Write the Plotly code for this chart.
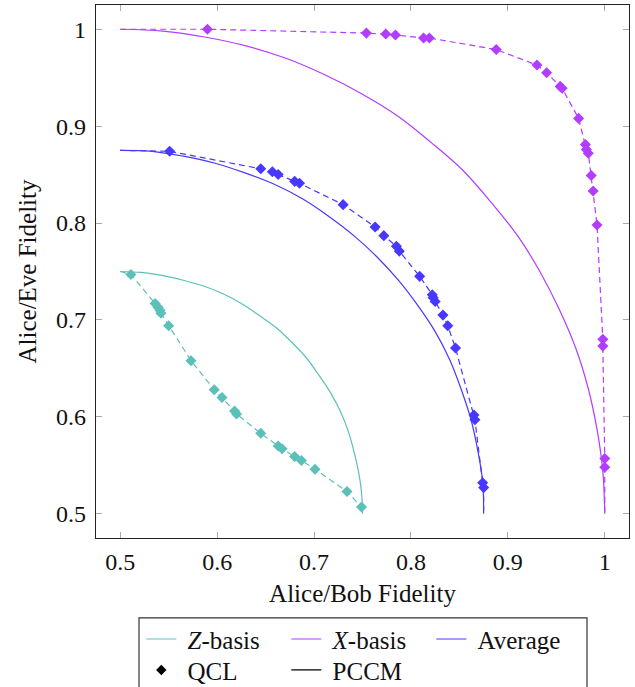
import plotly.graph_objects as go

# ---- data ----
z_qcl_x = [0.511, 0.536, 0.539, 0.541, 0.542, 0.550, 0.573, 0.597, 0.605, 0.618, 0.620,
           0.645, 0.663, 0.667, 0.680, 0.687, 0.701, 0.734, 0.749]
z_qcl_y = [0.747, 0.717, 0.713, 0.710, 0.707, 0.694, 0.658, 0.628, 0.620, 0.606, 0.603,
           0.583, 0.570, 0.567, 0.559, 0.555, 0.546, 0.523, 0.507]
z_qcl_ends_x = [0.500, 0.749]
z_qcl_ends_y = [0.750, 0.507]

x_qcl_x = [0.590, 0.754, 0.774, 0.784, 0.813, 0.819, 0.888, 0.930, 0.940, 0.954, 0.956,
           0.973, 0.980, 0.981, 0.983, 0.986, 0.988, 0.992, 0.998, 0.998, 1.000, 1.000]
x_qcl_y = [1.000, 0.996, 0.995, 0.994, 0.991, 0.991, 0.979, 0.963, 0.955, 0.941, 0.939,
           0.908, 0.881, 0.876, 0.872, 0.849, 0.833, 0.798, 0.680, 0.673, 0.557, 0.548]
x_qcl_ends_x = [0.500, 1.000]
x_qcl_ends_y = [1.000, 0.502]

avg_qcl_x = [0.551, 0.645, 0.657, 0.663, 0.680, 0.685, 0.730, 0.763, 0.772, 0.785, 0.788,
             0.809, 0.822, 0.823, 0.825, 0.833, 0.838, 0.846, 0.865, 0.866, 0.874, 0.875]
avg_qcl_y = [0.874, 0.856, 0.853, 0.850, 0.843, 0.841, 0.819, 0.796, 0.787, 0.776, 0.771,
             0.745, 0.726, 0.723, 0.719, 0.705, 0.694, 0.671, 0.602, 0.597, 0.532, 0.527]
avg_qcl_ends_x = [0.500, 0.875]
avg_qcl_ends_y = [0.875, 0.503]

z_pccm_x = [0.500, 0.522, 0.543, 0.565, 0.586, 0.606, 0.625, 0.643, 0.661, 0.677,
            0.692, 0.705, 0.717, 0.727, 0.735, 0.741, 0.746, 0.749, 0.750]
z_pccm_y = [0.750, 0.749, 0.746, 0.741, 0.735, 0.727, 0.717, 0.705, 0.692, 0.677,
            0.661, 0.643, 0.625, 0.606, 0.586, 0.565, 0.543, 0.522, 0.500]
x_pccm_x = [0.500, 0.544, 0.587, 0.629, 0.671, 0.711, 0.750, 0.787, 0.821, 0.854,
            0.883, 0.910, 0.933, 0.953, 0.970, 0.983, 0.992, 0.998, 1.000]
x_pccm_y = [1.000, 0.998, 0.992, 0.983, 0.970, 0.953, 0.933, 0.910, 0.883, 0.854,
            0.821, 0.787, 0.750, 0.711, 0.671, 0.629, 0.587, 0.544, 0.500]
avg_pccm_x = [0.500, 0.533, 0.565, 0.597, 0.628, 0.659, 0.688, 0.715, 0.741, 0.765,
              0.787, 0.807, 0.825, 0.840, 0.852, 0.862, 0.869, 0.874, 0.875]
avg_pccm_y = [0.875, 0.874, 0.869, 0.862, 0.852, 0.840, 0.825, 0.807, 0.787, 0.765,
              0.741, 0.715, 0.688, 0.659, 0.628, 0.597, 0.565, 0.533, 0.500]

tick_vals = [0.5, 0.6, 0.7, 0.8, 0.9, 1.0]
tick_text = ["0.5", "0.6", "0.7", "0.8", "0.9", "1"]

series_names = ["<i>Z</i>-basis", "<i>X</i>-basis", "Average"]

# ---- styling ----
C_Z = "#5cc0ba"
C_X = "#b23cff"
C_AVG = "#4838ff"
FONT = "Liberation Serif"

fig = go.Figure()

groups = [
    (C_Z, z_pccm_x, z_pccm_y, z_qcl_x, z_qcl_y, z_qcl_ends_x, z_qcl_ends_y),
    (C_X, x_pccm_x, x_pccm_y, x_qcl_x, x_qcl_y, x_qcl_ends_x, x_qcl_ends_y),
    (C_AVG, avg_pccm_x, avg_pccm_y, avg_qcl_x, avg_qcl_y, avg_qcl_ends_x, avg_qcl_ends_y),
]

for color, px_, py_, qx, qy, ex, ey in groups:
    fig.add_trace(go.Scatter(x=px_, y=py_, mode="lines", line=dict(color=color, width=1.2, shape="spline"),
                             showlegend=False, hoverinfo="skip"))
    lx = [ex[0]] + qx + [ex[1]]
    ly = [ey[0]] + qy + [ey[1]]
    fig.add_trace(go.Scatter(x=lx, y=ly, mode="lines", line=dict(color=color, width=1.2, dash="6px,4px"),
                             showlegend=False, hoverinfo="skip"))
    fig.add_trace(go.Scatter(x=qx, y=qy, mode="markers",
                             marker=dict(symbol="diamond", size=8.5, color=color, line=dict(width=0)),
                             showlegend=False))

for name, color in zip(series_names, [C_Z, C_X, C_AVG]):
    fig.add_trace(go.Scatter(x=[None], y=[None], mode="lines", name="\u00a0" + name,
                             line=dict(color=color, width=1.2), legend="legend"))
fig.add_trace(go.Scatter(x=[None], y=[None], mode="markers", name="\u00a0QCL",
                         marker=dict(symbol="diamond", size=8, color="black"), legend="legend2"))
fig.add_trace(go.Scatter(x=[None], y=[None], mode="lines", name="\u00a0PCCM",
                         line=dict(color="black", width=1.2), legend="legend2"))

axis_common = dict(
    tickvals=tick_vals, ticktext=tick_text, ticks="inside", ticklen=6, tickwidth=1,
    tickcolor="#aaaaaa", showline=True, linecolor="#222222", linewidth=1.3, mirror="allticks",
    showgrid=False, zeroline=False, tickfont=dict(family=FONT, size=24, color="#111111"),
)

legend_common = dict(
    orientation="h", font=dict(family=FONT, size=25, color="#111111"),
    bgcolor="rgba(0,0,0,0)", borderwidth=0, entrywidth=100, entrywidthmode="pixels",
    xanchor="left", yanchor="middle", itemwidth=30,
)

fig.update_layout(
    width=635, height=687,
    margin=dict(l=96, r=6, t=5, b=149, autoexpand=False),
    paper_bgcolor="white", plot_bgcolor="white",
    font=dict(family=FONT, color="#111111"),
    xaxis=dict(range=[0.475, 1.025], ticklabelstandoff=2,
               title=dict(text="Alice/Bob Fidelity", font=dict(family=FONT, size=25), standoff=10),
               **axis_common),
    yaxis=dict(range=[0.475, 1.025], ticklabelstandoff=4,
               title=dict(text="Alice/Eve Fidelity", font=dict(family=FONT, size=25), standoff=12),
               **axis_common),
    legend=dict(x=0.085, y=-0.19, **legend_common),
    legend2=dict(x=0.085, y=-0.248, **legend_common),
    shapes=[dict(type="rect", xref="paper", yref="paper", x0=0.0807, x1=0.9212, y0=-0.32, y1=-0.150,
                 line=dict(color="#333333", width=1.2), fillcolor="rgba(0,0,0,0)")],
)

fig.write_html("out.html", config={"displayModeBar": False},
               post_script="document.body.style.margin='0px';")
